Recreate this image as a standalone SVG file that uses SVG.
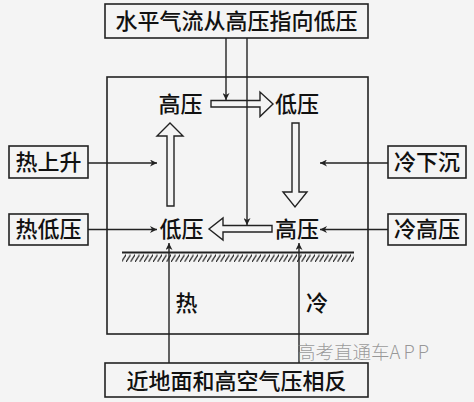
<svg xmlns="http://www.w3.org/2000/svg" width="474" height="402" viewBox="0 0 474 402">
<defs>
<style>
.t{font-family:"Noto Sans CJK SC","Noto Sans",sans-serif;font-size:22px;font-weight:500;fill:#111;text-anchor:middle}
.box{fill:none;stroke:#222;stroke-width:1.6}
.ln{stroke:#222;stroke-width:1.4;fill:none}
.ha{fill:#f4f4f4;stroke:#222;stroke-width:1.4}
.wm{font-family:"Noto Sans CJK SC","Noto Sans",sans-serif;font-size:18.5px;font-weight:300;fill:#888;fill-opacity:0.85}
</style>
<marker id="ah" viewBox="0 0 10 10" refX="10" refY="5" markerWidth="9" markerHeight="7" markerUnits="userSpaceOnUse" orient="auto">
<path d="M0,0 L10,5 L0,10 L3,5 Z" fill="#222"/>
</marker>
<pattern id="hatch" patternUnits="userSpaceOnUse" width="4.5" height="10" x="0" y="253">
<line x1="-1" y1="10.5" x2="6" y2="-0.5" stroke="#222" stroke-width="1.2"/>
</pattern>
</defs>
<rect width="474" height="402" fill="#f4f4f4"/>

<g id="main-frame">
<rect class="box" x="107" y="77" width="261" height="257"/>
</g>

<g id="ground">
<rect x="122" y="253" width="232" height="9" fill="url(#hatch)"/>
<line x1="122" y1="252.5" x2="354" y2="252.5" stroke="#222" stroke-width="2"/>
</g>

<g id="top-box">
<rect class="box" x="105" y="4" width="263" height="34"/>
<text class="t" x="236.5" y="29">水平气流从高压指向低压</text>
</g>

<g id="bottom-box">
<rect class="box" x="105" y="363" width="263" height="34"/>
<text class="t" x="236.5" y="389">近地面和高空气压相反</text>
</g>

<g id="left-top-box">
<rect class="box" x="9" y="146" width="79" height="32"/>
<text class="t" x="48.5" y="170">热上升</text>
</g>
<g id="left-bottom-box">
<rect class="box" x="9" y="214" width="79" height="31"/>
<text class="t" x="48.5" y="237">热低压</text>
</g>
<g id="right-top-box">
<rect class="box" x="388" y="146" width="78" height="32"/>
<text class="t" x="427" y="170">冷下沉</text>
</g>
<g id="right-bottom-box">
<rect class="box" x="388" y="214" width="78" height="31"/>
<text class="t" x="427" y="237">冷高压</text>
</g>

<g id="upper-high"><text class="t" x="180.5" y="112">高压</text></g>
<g id="upper-low"><text class="t" x="297" y="112">低压</text></g>
<g id="lower-low"><text class="t" x="181.5" y="237">低压</text></g>
<g id="lower-high"><text class="t" x="297" y="237">高压</text></g>
<g id="hot"><text class="t" x="186.5" y="311">热</text></g>
<g id="cold"><text class="t" x="317" y="311">冷</text></g>

<g id="flow-arrows">
<polygon class="ha" points="211,100.5 260,100.5 260,92 273,104 260,116.5 260,107 211,107"/>
<polygon class="ha" points="167,206 167,136 157,136 170,123 183,136 174,136 174,206"/>
<polygon class="ha" points="292,123 299,123 299,192 307,192 295,207 283,192 292,192"/>
<polygon class="ha" points="272,225.5 223,225.5 223,218 209,229 223,240 223,232 272,232"/>
</g>

<g id="connectors">
<line class="ln" x1="226" y1="38" x2="226" y2="100" marker-end="url(#ah)"/>
<line class="ln" x1="247" y1="38" x2="247" y2="225" marker-end="url(#ah)"/>
<line class="ln" x1="88" y1="163" x2="157" y2="163" marker-end="url(#ah)"/>
<line class="ln" x1="88" y1="229.5" x2="157" y2="229.5" marker-end="url(#ah)"/>
<line class="ln" x1="388" y1="163" x2="320" y2="163" marker-end="url(#ah)"/>
<line class="ln" x1="388" y1="229.5" x2="320" y2="229.5" marker-end="url(#ah)"/>
<line class="ln" x1="169" y1="363" x2="169" y2="243" marker-end="url(#ah)"/>
<line class="ln" x1="299" y1="363" x2="299" y2="243" marker-end="url(#ah)"/>
</g>

<text class="wm" x="297" y="359">高考直通车<tspan letter-spacing="3">APP</tspan></text>
</svg>
